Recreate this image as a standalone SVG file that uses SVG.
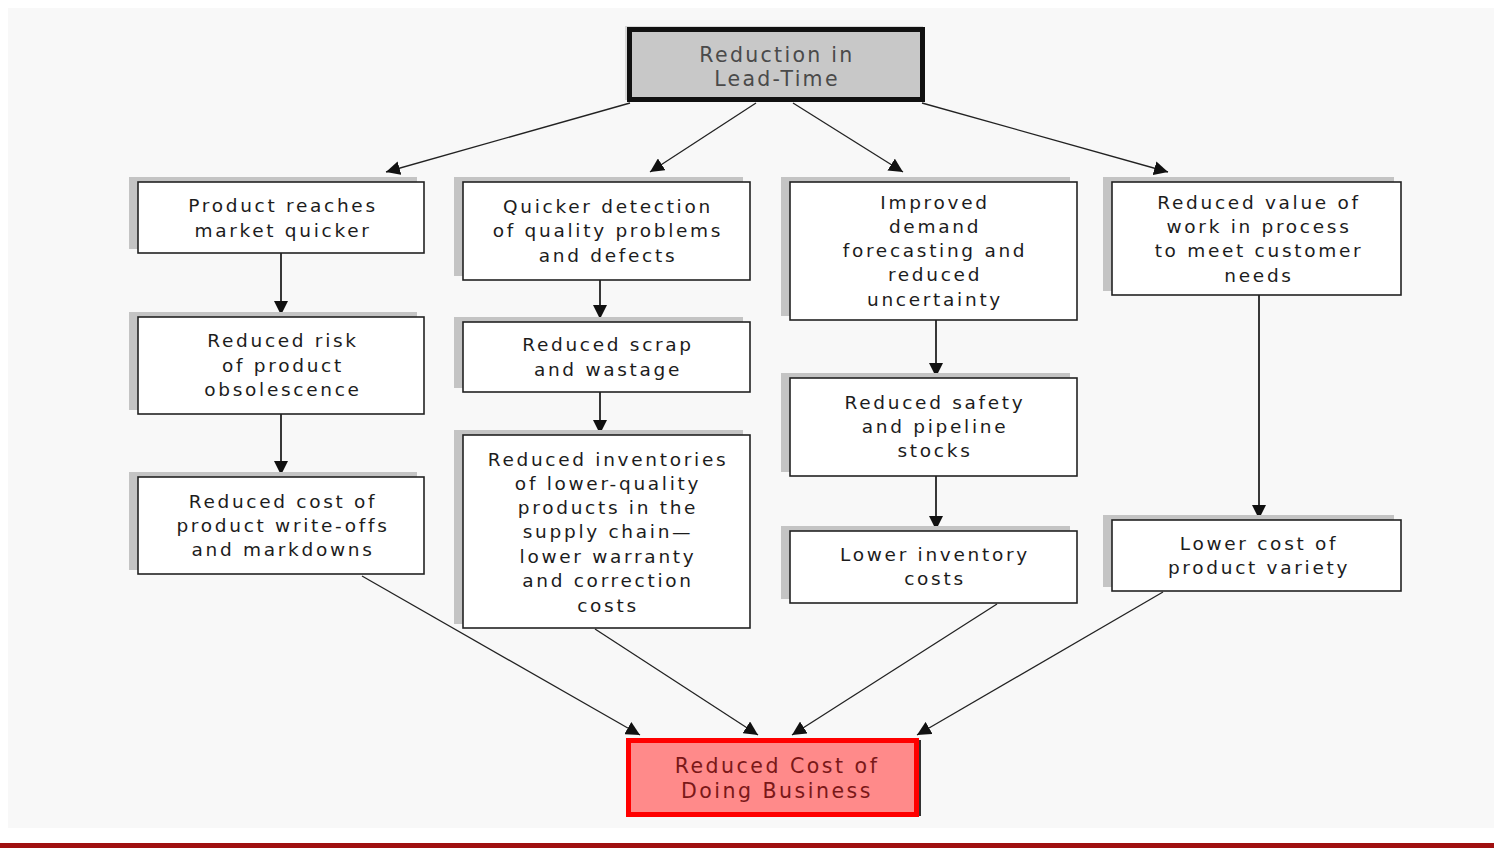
<svg xmlns="http://www.w3.org/2000/svg" width="1494" height="848" viewBox="0 0 1494 848">
<defs>
<style>
.bg{fill:#f8f8f8}
.sh{fill:#c4c4c4}
.box{fill:#ffffff;stroke:#222;stroke-width:1.6}
.t{font-family:"DejaVu Sans",Verdana,sans-serif;font-size:18.5px;letter-spacing:2.7px;fill:#1c1c1c;text-anchor:middle}
.tt{font-family:"DejaVu Sans",Verdana,sans-serif;font-size:20.5px;letter-spacing:2.3px;fill:#4a4a4a;text-anchor:middle}
.tb{font-family:"DejaVu Sans",Verdana,sans-serif;font-size:20.5px;letter-spacing:2.5px;fill:#7a1818;text-anchor:middle}
.c{stroke:#222;stroke-width:1.3;fill:none;marker-end:url(#ah)}
.cv{stroke:#222;stroke-width:1.8;fill:none;marker-end:url(#ah)}
</style>
<marker id="ah" viewBox="0 0 10 10" refX="10" refY="5" markerWidth="14" markerHeight="14" markerUnits="userSpaceOnUse" orient="auto">
<path d="M0,0 L10,5 L0,10 Z" fill="#111"/>
</marker>
</defs>
<rect x="0" y="0" width="1494" height="848" fill="#ffffff"/>
<rect class="bg" x="8" y="8" width="1486" height="820"/>
<rect x="0" y="843" width="1494" height="5" fill="#a01010"/>

<g id="connectors">
<path class="c" d="M630,103 L386,172"/>
<path class="c" d="M756,103 L650,172"/>
<path class="c" d="M793,103 L903,172"/>
<path class="c" d="M922,103 L1168,172"/>
<path class="cv" d="M281,253 L281,315"/>
<path class="cv" d="M281,414 L281,475"/>
<path class="cv" d="M600,280 L600,319"/>
<path class="cv" d="M600,392 L600,434"/>
<path class="cv" d="M936,320 L936,377"/>
<path class="cv" d="M936,476 L936,530"/>
<path class="cv" d="M1259,295 L1259,519"/>
<path class="c" d="M362,576 L640,735"/>
<path class="c" d="M595,629 L758,735"/>
<path class="c" d="M997,604 L792,735"/>
<path class="c" d="M1163,592 L917,735"/>
</g>

<g id="top">
<rect x="625" y="26" width="298" height="74" fill="#d8d8d8"/>
<rect x="629.5" y="29.5" width="293" height="70" fill="#c8c8c8" stroke="#111" stroke-width="5"/>
<text class="tt" x="777" y="62">Reduction in</text>
<text class="tt" x="777" y="86">Lead-Time</text>
</g>

<g id="n1">
<rect class="sh" x="129" y="177" width="288" height="72"/>
<rect class="box" x="138" y="182" width="286" height="71"/>
<text class="t" x="283" y="212">Product reaches</text>
<text class="t" x="283" y="237">market quicker</text>
</g>
<g id="n2">
<rect class="sh" x="129" y="312" width="288" height="98"/>
<rect class="box" x="138" y="317" width="286" height="97"/>
<text class="t" x="283" y="347">Reduced risk</text>
<text class="t" x="283" y="372">of product</text>
<text class="t" x="283" y="396">obsolescence</text>
</g>
<g id="n3">
<rect class="sh" x="129" y="472" width="288" height="98"/>
<rect class="box" x="138" y="477" width="286" height="97"/>
<text class="t" x="283" y="508">Reduced cost of</text>
<text class="t" x="283" y="532">product write-offs</text>
<text class="t" x="283" y="556">and markdowns</text>
</g>

<g id="n4">
<rect class="sh" x="454" y="177" width="289" height="99"/>
<rect class="box" x="463" y="182" width="287" height="98"/>
<text class="t" x="608" y="213">Quicker detection</text>
<text class="t" x="608" y="237">of quality problems</text>
<text class="t" x="608" y="262">and defects</text>
</g>
<g id="n5">
<rect class="sh" x="454" y="317" width="289" height="71"/>
<rect class="box" x="463" y="322" width="287" height="70"/>
<text class="t" x="608" y="351">Reduced scrap</text>
<text class="t" x="608" y="376">and wastage</text>
</g>
<g id="n6">
<rect class="sh" x="454" y="430" width="289" height="194"/>
<rect class="box" x="463" y="435" width="287" height="193"/>
<text class="t" x="608" y="466">Reduced inventories</text>
<text class="t" x="608" y="490">of lower-quality</text>
<text class="t" x="608" y="514">products in the</text>
<text class="t" x="608" y="538">supply chain—</text>
<text class="t" x="608" y="563">lower warranty</text>
<text class="t" x="608" y="587">and correction</text>
<text class="t" x="608" y="612">costs</text>
</g>

<g id="n7">
<rect class="sh" x="781" y="177" width="289" height="139"/>
<rect class="box" x="790" y="182" width="287" height="138"/>
<text class="t" x="935" y="209">Improved</text>
<text class="t" x="935" y="233">demand</text>
<text class="t" x="935" y="257">forecasting and</text>
<text class="t" x="935" y="281">reduced</text>
<text class="t" x="935" y="306">uncertainty</text>
</g>
<g id="n8">
<rect class="sh" x="781" y="373" width="289" height="99"/>
<rect class="box" x="790" y="378" width="287" height="98"/>
<text class="t" x="935" y="409">Reduced safety</text>
<text class="t" x="935" y="433">and pipeline</text>
<text class="t" x="935" y="457">stocks</text>
</g>
<g id="n9">
<rect class="sh" x="781" y="526" width="289" height="73"/>
<rect class="box" x="790" y="531" width="287" height="72"/>
<text class="t" x="935" y="561">Lower inventory</text>
<text class="t" x="935" y="585">costs</text>
</g>

<g id="n10">
<rect class="sh" x="1103" y="177" width="291" height="114"/>
<rect class="box" x="1112" y="182" width="289" height="113"/>
<text class="t" x="1259" y="209">Reduced value of</text>
<text class="t" x="1259" y="233">work in process</text>
<text class="t" x="1259" y="257">to meet customer</text>
<text class="t" x="1259" y="282">needs</text>
</g>
<g id="n11">
<rect class="sh" x="1103" y="515" width="291" height="72"/>
<rect class="box" x="1112" y="520" width="289" height="71"/>
<text class="t" x="1259" y="550">Lower cost of</text>
<text class="t" x="1259" y="574">product variety</text>
</g>

<g id="bottom">
<rect x="628" y="740" width="293" height="76" fill="#333"/>
<rect x="628.5" y="740.5" width="288" height="74" fill="#ff8a8a" stroke="#ff0000" stroke-width="5"/>
<text class="tb" x="777" y="773">Reduced Cost of</text>
<text class="tb" x="777" y="798">Doing Business</text>
</g>
</svg>
